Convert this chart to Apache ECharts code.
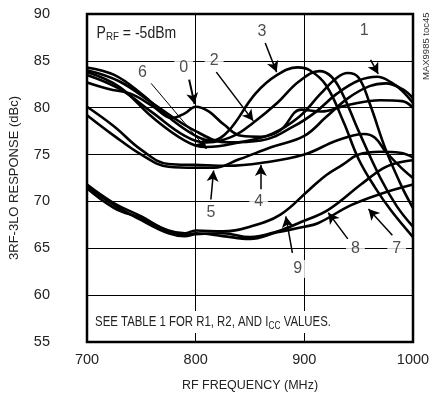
<!DOCTYPE html>
<html>
<head>
<meta charset="utf-8">
<script src="https://cdn.jsdelivr.net/npm/echarts@6/dist/echarts.min.js"></script>
<style>
  html, body { margin: 0; padding: 0; background: #fff; }
  #chart { width: 439px; height: 400px; }
</style>
</head>
<body>
<div id="chart"></div>
<script>
// x: RF frequency (MHz), y: 3RF-3LO response (dBc)
var xTicks = [700, 800, 900, 1000];
var yTicks = [55, 60, 65, 70, 75, 80, 85, 90];

var curve0 = [[700,82.7],[720,82.0],[740,81.5],[760,80.2],[778,78.9],[790,79.4],[800,80.1],[812,79.6],[826,78.2],[842,77.0],[860,76.9],[878,77.6],[897,79.8],[915,79.6],[940,80.3],[970,80.8],[990,80.7],[1000,80.0]];
var curve1 = [[700,84.0],[730,82.8],[760,80.5],[800,77.5],[830,76.3],[860,76.5],[890,78.0],[910,79.5],[930,81.5],[950,82.9],[967,83.3],[980,82.7],[990,81.8],[1000,80.5]];
var curve2 = [[700,83.5],[730,82.0],[760,79.5],[790,77.0],[810,76.3],[835,77.0],[853,78.4],[875,80.5],[895,82.8],[914,83.9],[925,83.3],[935,81.5],[950,77.5],[970,72.5],[985,69.5],[1000,67.3]];
var curve3 = [[700,84.3],[725,83.5],[750,81.5],[775,79.0],[800,77.0],[815,76.5],[830,77.5],[855,81.5],[875,83.5],[894,84.3],[905,84.0],[920,82.4],[936,78.5],[950,74.5],[965,71.5],[980,69.0],[1000,66.2]];
var curve4 = [[700,80.1],[725,78.0],[750,75.5],[775,74.0],[800,73.9],[830,73.8],[860,74.1],[900,75.0],[930,76.5],[955,77.2],[965,76.8],[975,75.3],[990,73.5],[1000,72.5]];
var curve5 = [[700,79.2],[725,77.0],[750,75.0],[775,73.7],[800,73.6],[817,73.6],[840,74.5],[870,75.8],[900,77.0],[920,79.0],[940,81.0],[960,82.3],[975,82.6],[990,82.0],[1000,81.0]];
var curve6 = [[700,83.8],[730,82.2],[760,79.0],[790,76.5],[810,75.8],[840,76.3],[870,77.2],[895,79.0],[915,81.5],[930,83.2],[940,83.7],[950,83.2],[960,80.5],[975,75.5],[990,71.5],[1000,69.3]];
var curve7 = [[700,71.8],[725,69.8],[750,68.4],[775,66.8],[790,66.4],[800,66.6],[825,66.3],[850,66.0],[875,66.7],[900,67.3],[913,67.7],[943,69.6],[970,70.8],[1000,71.8]];
var curve8 = [[700,71.6],[725,69.6],[750,68.0],[775,66.6],[790,66.3],[800,66.5],[825,66.6],[850,66.2],[875,66.8],[897,67.8],[922,69.1],[952,71.8],[972,73.5],[985,74.1],[1000,74.4]];
var curve9 = [[700,71.4],[725,69.3],[750,68.2],[775,66.9],[790,66.6],[800,66.9],[825,66.8],[850,67.3],[878,68.6],[904,71.2],[920,72.8],[935,73.9],[950,75.0],[970,75.3],[988,75.2],[1000,74.7]];

var curves = [curve0, curve1, curve2, curve3, curve4, curve5, curve6, curve7, curve8, curve9];

// curve number labels (data coords) and their arrows [from, tip]
var tagText = ['6', '0', '2', '3', '1', '5', '4', '9', '8', '7'];
var tagPos = [[751,83.7],[789,84.3],[817,85.0],[861,88.1],[955,88.2],[814,68.8],[858,70.0],[894,62.8],[947,65.0],[985,65.0]];
var arrowFrom = [[759,82.6],[794,83.0],[819,83.8],[864,86.9],[961,85.1],[814,70.2],[860,71.3],[889,64.5],[940,66.0],[981,66.4]];
var arrowTip = [[810,75.6],[799,80.4],[853,78.6],[874.5,83.8],[968,83.6],[816.5,73.3],[860,73.9],[883,68.4],[922,68.8],[959,69.2]];
var arrowWidth = [1, 2, 1.5, 1.5, 1.5, 1.5, 1.5, 1.5, 1.5, 1.5];

var FONT = "'Liberation Sans Narrow', 'Liberation Sans', Arial, sans-serif";

var myChart = echarts.init(document.getElementById('chart'));

var series = curves.map(function (c, i) {
    return {
        name: 'c' + i,
        type: 'line',
        data: c,
        smooth: 0.4,
        showSymbol: false,
        silent: true,
        z: 3,
        lineStyle: { color: '#000', width: 2.6 }
    };
});

// arrows
series.push({
    name: 'arrows',
    type: 'line',
    data: [],
    markLine: {
        silent: true,
        symbol: ['none', 'arrow'],
        symbolSize: [9, 11],
        label: { show: false },
        lineStyle: { color: '#000', type: 'solid' },
        data: arrowFrom.map(function (f, i) {
            return [
                { coord: f, lineStyle: { width: arrowWidth[i], color: '#000', type: 'solid' } },
                { coord: arrowTip[i] }
            ];
        })
    }
});

// number tags
series.push({
    name: 'tags',
    type: 'scatter',
    symbolSize: 0,
    silent: true,
    z: 5,
    data: tagPos.map(function (p, i) { return { value: p, name: tagText[i] }; }),
    label: {
        show: true,
        position: 'inside',
        formatter: '{b}',
        color: '#222',
        fontFamily: FONT,
        fontSize: 16,
        backgroundColor: '#fff',
        padding: [1, 5, 1, 5]
    }
});

var option = {
    animation: false,
    textStyle: { fontFamily: FONT },
    grid: {
        left: 85, right: 26, top: 14, bottom: 58,
        show: true,
        borderColor: '#000',
        borderWidth: 2.5,
        backgroundColor: 'transparent'
    },
    xAxis: {
        type: 'value',
        min: 700, max: 1000, interval: 100,
        name: 'RF FREQUENCY (MHz)',
        nameLocation: 'middle',
        nameGap: 37,
        nameTextStyle: { color: '#222', fontSize: 12.5, fontFamily: FONT },
        axisLine: { show: false },
        axisTick: { show: false },
        axisLabel: {
            color: '#222', fontSize: 14.5, fontFamily: FONT, margin: 10,
            formatter: function (v) { return xTicks.indexOf(v) >= 0 ? String(v) : ''; }
        },
        splitLine: { show: true, lineStyle: { color: '#000', width: 1 } }
    },
    yAxis: {
        type: 'value',
        min: 55, max: 90, interval: 5,
        name: '3RF-3LO RESPONSE (dBc)',
        nameLocation: 'middle',
        nameGap: 66,
        nameRotate: 90,
        nameTextStyle: { color: '#222', fontSize: 13, fontFamily: FONT },
        axisLine: { show: false },
        axisTick: { show: false },
        axisLabel: {
            color: '#222', fontSize: 14.5, fontFamily: FONT, margin: 37,
            formatter: function (v) { return yTicks.indexOf(v) >= 0 ? String(v) : ''; }
        },
        splitLine: { show: true, lineStyle: { color: '#000', width: 1 } }
    },
    graphic: [
        {
            // condensed look: wider font squeezed horizontally
            type: 'text', x: 94, y: 23, scaleX: 0.85, z: 10,
            style: {
                text: '{a|P}{s|RF}{a| = -5dBm}',
                backgroundColor: '#fff',
                padding: [1, 3, 1, 3],
                rich: {
                    a: { fontSize: 16.5, fontFamily: FONT, fill: '#222', lineHeight: 19 },
                    s: { fontSize: 11.5, fontFamily: FONT, fill: '#222', verticalAlign: 'bottom', lineHeight: 12, padding: [8, 0, 0, 0] }
                }
            }
        },
        {
            type: 'text', x: 92, y: 311, scaleX: 0.76, z: 10,
            style: {
                text: '{a|SEE TABLE 1 FOR R1, R2, AND I}{s|CC}{a| VALUES.}',
                backgroundColor: '#fff',
                padding: [2, 4, 2, 4],
                rich: {
                    a: { fontSize: 15, fontFamily: FONT, fill: '#222', lineHeight: 18 },
                    s: { fontSize: 11, fontFamily: FONT, fill: '#222', verticalAlign: 'bottom', lineHeight: 12, padding: [7, 0, 0, 0] }
                }
            }
        },
        {
            type: 'text', x: 426, y: 80, rotation: Math.PI / 2, z: 10,
            style: {
                text: 'MAX9985 toc45',
                fontSize: 9.5, fontFamily: FONT, fill: '#333',
                align: 'left', verticalAlign: 'middle'
            }
        }
    ],
    series: series
};

myChart.setOption(option);
window.addEventListener('resize', function () {
    myChart.resize();
});
</script>
</body>
</html>
